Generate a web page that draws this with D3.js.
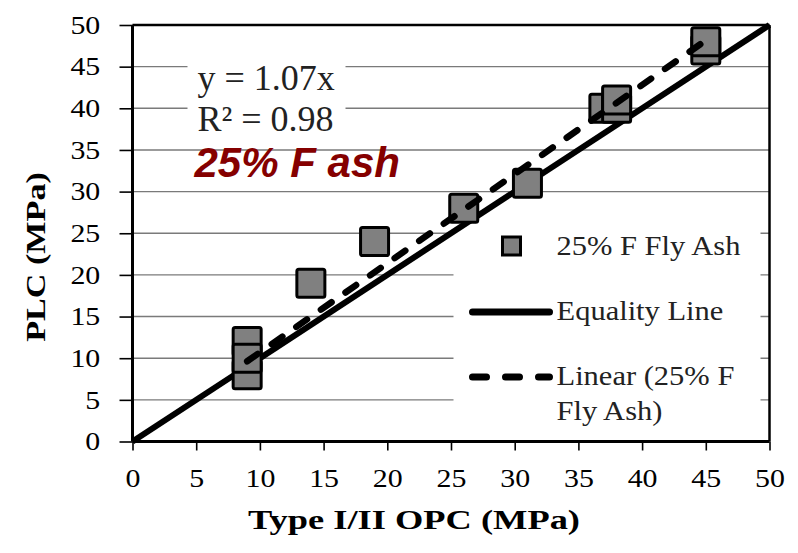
<!DOCTYPE html>
<html>
<head>
<meta charset="utf-8">
<script src="https://cdn.jsdelivr.net/npm/d3@7"></script>
<style>
  body { margin: 0; background: #fff; }
  svg { display: block; }
</style>
</head>
<body>
<div id="chart"></div>
<script>
// Type I/II OPC strength vs PLC strength, 25% F fly ash mixes
const opc = [9, 9, 9, 14, 19, 26, 31, 37, 38, 38, 45, 45];
const plc = [12, 8, 10, 19, 24, 28, 31, 40, 40, 41, 47, 48];
const slope = 1.07;
const r2 = 0.98;
const xTicks = [0, 5, 10, 15, 20, 25, 30, 35, 40, 45, 50];
const yTicks = [0, 5, 10, 15, 20, 25, 30, 35, 40, 45, 50];
const legendLabels = ["25% F Fly Ash", "Equality Line", "Linear (25% F", "Fly Ash)"];

const serif = "'Liberation Serif', 'Times New Roman', serif";
const svg = d3.select("#chart").append("svg")
    .attr("width", 798)
    .attr("height", 553);

const margin = {top: 25, right: 28.5, bottom: 111.5, left: 132.5};
const width = 798 - margin.left - margin.right;
const height = 553 - margin.top - margin.bottom;

const x = d3.scaleLinear().domain([0, 50]).range([0, width]);
const y = d3.scaleLinear().domain([0, 50]).range([height, 0]);

const g = svg.append("g")
    .attr("transform", "translate(" + margin.left + "," + margin.top + ")");

// gridlines
g.append("g")
  .selectAll("line")
  .data(yTicks.slice(1))
  .join("line")
    .attr("x1", 0).attr("x2", width)
    .attr("y1", d => y(d)).attr("y2", d => y(d))
    .attr("stroke", "#7a7a7a")
    .attr("stroke-width", 1.4);

// white boxes behind equation + legend (they hide the gridlines)
g.append("rect")
    .attr("x", 55).attr("y", 30).attr("width", 158).attr("height", 82)
    .attr("fill", "#fff");
g.append("rect")
    .attr("x", 321).attr("y", 182).attr("width", 307).attr("height", 226)
    .attr("fill", "#fff");

// axes
const xAxis = d3.axisBottom(x).tickValues(xTicks).tickSize(9).tickFormat(d3.format("d"));
const yAxis = d3.axisLeft(y).tickValues(yTicks).tickSize(13).tickFormat(d3.format("d"));

const gx = g.append("g")
    .attr("transform", "translate(0," + height + ")")
    .call(xAxis);
const gy = g.append("g").call(yAxis);

[gx, gy].forEach(a => {
  a.select(".domain").remove();
  a.selectAll(".tick line").attr("stroke", "#000").attr("stroke-width", 1.6);
  a.selectAll("text")
    .attr("font-family", serif)
    .attr("font-size", 26)
    .attr("fill", "#000")
    .attr("transform", "scale(1.15,1)");
});
gx.selectAll("text").attr("y", 27);
gy.selectAll("text").attr("x", -28);

// plot border
g.append("line").attr("x1", 0).attr("x2", width).attr("y1", 0).attr("y2", 0)
    .attr("stroke", "#000").attr("stroke-width", 2.5);
g.append("line").attr("x1", width).attr("x2", width).attr("y1", 0).attr("y2", height)
    .attr("stroke", "#000").attr("stroke-width", 2.5);
g.append("line").attr("x1", 0).attr("x2", width).attr("y1", height).attr("y2", height)
    .attr("stroke", "#000").attr("stroke-width", 3);
g.append("line").attr("x1", 0).attr("x2", 0).attr("y1", 0).attr("y2", height)
    .attr("stroke", "#000").attr("stroke-width", 3);

// equality line
g.append("line")
    .attr("x1", x(0)).attr("y1", y(0))
    .attr("x2", x(50)).attr("y2", y(50))
    .attr("stroke", "#000")
    .attr("stroke-width", 6);

// points
const size = 28;
g.append("g")
  .selectAll("rect")
  .data(opc.map((d, i) => [d, plc[i]]))
  .join("rect")
    .attr("x", d => x(d[0]) - size / 2)
    .attr("y", d => y(d[1]) - size / 2)
    .attr("width", size).attr("height", size)
    .attr("rx", 2)
    .attr("fill", "#808080")
    .attr("stroke", "#000")
    .attr("stroke-width", 3);

// linear trendline, spans the data range
const x0 = d3.min(opc), x1 = d3.max(opc);
g.append("line")
    .attr("x1", x(x0)).attr("y1", y(slope * x0))
    .attr("x2", x(x1)).attr("y2", y(slope * x1))
    .attr("stroke", "#000")
    .attr("stroke-width", 6.5)
    .attr("stroke-linecap", "round")
    .attr("stroke-dasharray", "13,17");

// equation text
g.append("text")
    .attr("x", 65).attr("y", 65)
    .attr("font-family", serif).attr("font-size", 36).attr("fill", "#222")
    .text("y = " + slope + "x");
g.append("text")
    .attr("x", 65).attr("y", 106)
    .attr("font-family", serif).attr("font-size", 36).attr("fill", "#222")
    .text("R² = " + r2);
g.append("text")
    .attr("x", 62).attr("y", 152)
    .attr("font-family", "'Liberation Sans', Arial, sans-serif")
    .attr("font-size", 42).attr("font-weight", "bold").attr("font-style", "italic")
    .attr("fill", "#850000")
    .text("25% F ash");

// legend
const leg = g.append("g");
leg.append("rect")
    .attr("x", 370).attr("y", 212)
    .attr("width", 18).attr("height", 18)
    .attr("fill", "#808080").attr("stroke", "#000").attr("stroke-width", 3);
leg.append("line")
    .attr("x1", 340).attr("x2", 417).attr("y1", 287).attr("y2", 287)
    .attr("stroke", "#000").attr("stroke-width", 7).attr("stroke-linecap", "round");
leg.append("line")
    .attr("x1", 340).attr("x2", 417).attr("y1", 352).attr("y2", 352)
    .attr("stroke", "#000").attr("stroke-width", 7).attr("stroke-linecap", "round")
    .attr("stroke-dasharray", "14,19");
const legY = [230, 295, 360, 395];
leg.selectAll("text.lbl")
  .data(legendLabels)
  .join("text")
    .attr("class", "lbl")
    .attr("transform", (d, i) => "translate(424," + legY[i] + ") scale(1.13,1)")
    .attr("font-family", serif).attr("font-size", 27).attr("fill", "#222")
    .text(d => d);

// axis titles
svg.append("text")
    .attr("transform", "translate(414,529) scale(1.3,1)")
    .attr("text-anchor", "middle")
    .attr("font-family", serif).attr("font-size", 28).attr("font-weight", "bold")
    .text("Type I/II OPC (MPa)");
svg.append("text")
    .attr("transform", "translate(45,257) rotate(-90) scale(1.22,1)")
    .attr("text-anchor", "middle")
    .attr("font-family", serif).attr("font-size", 28).attr("font-weight", "bold")
    .text("PLC (MPa)");
</script>
</body>
</html>
